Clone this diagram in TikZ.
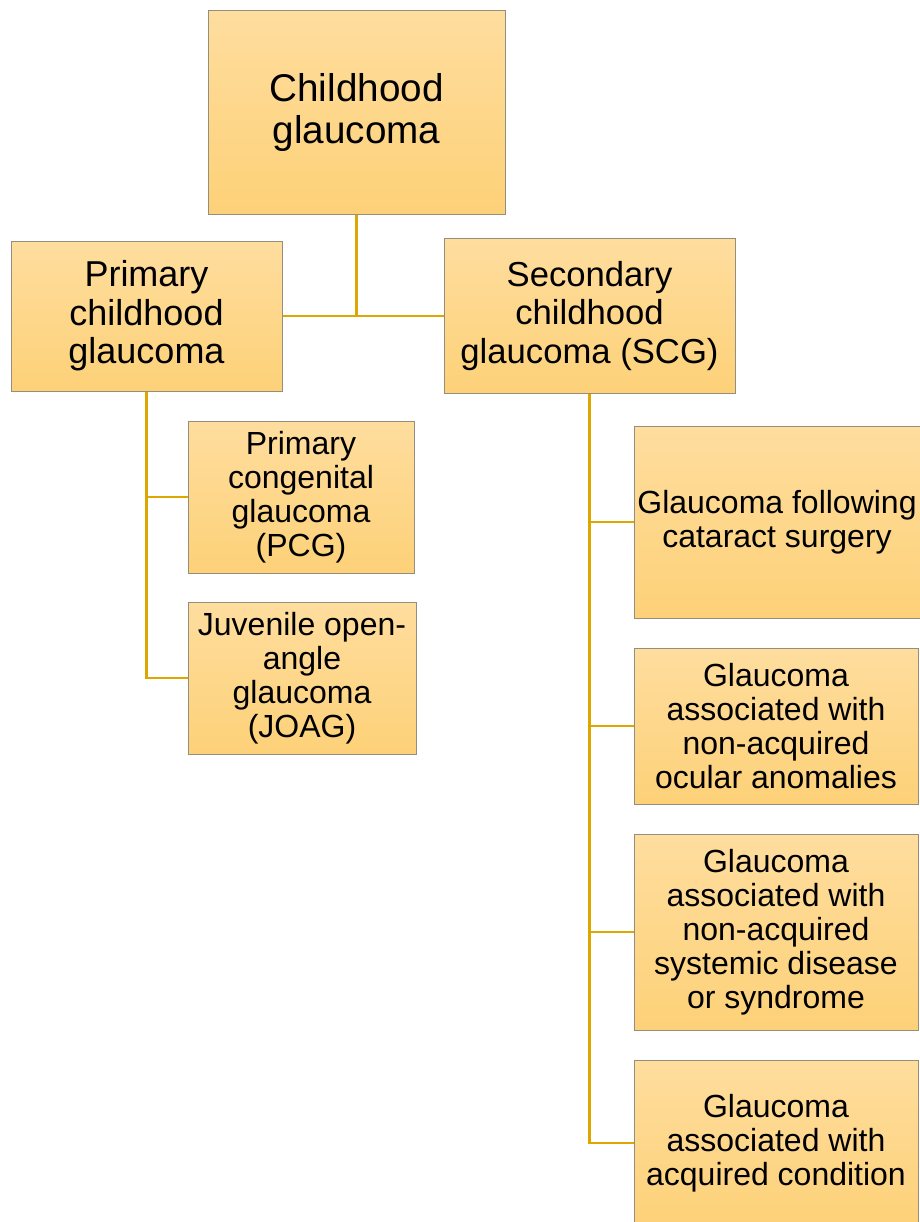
\documentclass[tikz,border=0pt]{standalone}
\usepackage{fontspec}
\setmainfont{Liberation Sans}
\usetikzlibrary{calc}
\definecolor{linkgold}{RGB}{222,166,0}
\definecolor{boxtop}{RGB}{254,221,158}
\definecolor{boxbot}{RGB}{253,209,120}
\definecolor{boxrim}{RGB}{150,142,125}

\begin{document}
\begin{tikzpicture}[x=0.75pt, y=-0.75pt,
    card/.style={draw=boxrim, line width=0.75pt, top color=boxtop, bottom color=boxbot,
      rectangle, align=center, inner sep=0pt, text=black},
    link/.style={draw=linkgold, line width=2.2pt}]
  \useasboundingbox (0,0) rectangle (920,1222);
  % --- top ---
  \node[card, minimum width=297*0.75pt, minimum height=204*0.75pt,
        font=\fontsize{29}{31.5}\selectfont] (root) at (356.5,112) {Childhood\\glaucoma};
  % --- second level ---
  \node[card, minimum width=271*0.75pt, minimum height=150*0.75pt,
        font=\fontsize{27}{29}\selectfont] (prim) at (146.5,316) {Primary\\childhood\\glaucoma};
  \node[card, minimum width=291*0.75pt, minimum height=155*0.75pt,
        font=\fontsize{26}{29}\selectfont] (sec) at (589.5,316) {Secondary\\childhood\\glaucoma (SCG)};
  % --- primary branch ---
  \node[card, minimum width=226*0.75pt, minimum height=152*0.75pt,
        font=\fontsize{24}{25.5}\selectfont] (pcg) at (301,497) {Primary\\congenital\\glaucoma\\(PCG)};
  \node[card, minimum width=228*0.75pt, minimum height=152*0.75pt,
        font=\fontsize{24}{25.5}\selectfont] (joag) at (302,678) {Juvenile open-\\angle\\glaucoma\\(JOAG)};
  % --- secondary branch ---
  \node[card, minimum width=286*0.75pt, minimum height=192*0.75pt,
        font=\fontsize{24}{25.5}\selectfont] (cat) at (777,522) {Glaucoma following\\cataract surgery};
  \node[card, minimum width=284*0.75pt, minimum height=156*0.75pt,
        font=\fontsize{24}{25.5}\selectfont] (ocu) at (776,726) {Glaucoma\\associated with\\non-acquired\\ocular anomalies};
  \node[card, minimum width=284*0.75pt, minimum height=196*0.75pt,
        font=\fontsize{24}{25.5}\selectfont] (sys) at (776,932) {Glaucoma\\associated with\\non-acquired\\systemic disease\\or syndrome};
  \node[card, minimum width=284*0.75pt, minimum height=166*0.75pt,
        font=\fontsize{24}{25.5}\selectfont] (acq) at (776,1143) {Glaucoma\\associated with\\acquired condition};
  % --- connectors ---
  \draw[link] (root.south) -- (root.south |- prim.east);
  \draw[link] (prim.east) -- (sec.west);
  \draw[link] (prim.south) -- (prim.south |- joag.west) -- (joag.west);
  \draw[link] (prim.south |- pcg.west) -- (pcg.west);
  \draw[link] (sec.south) -- (sec.south |- acq.west) -- (acq.west);
  \foreach \kid in {cat,ocu,sys}
    \draw[link] (sec.south |- \kid.west) -- (\kid.west);
\end{tikzpicture}
\end{document}
